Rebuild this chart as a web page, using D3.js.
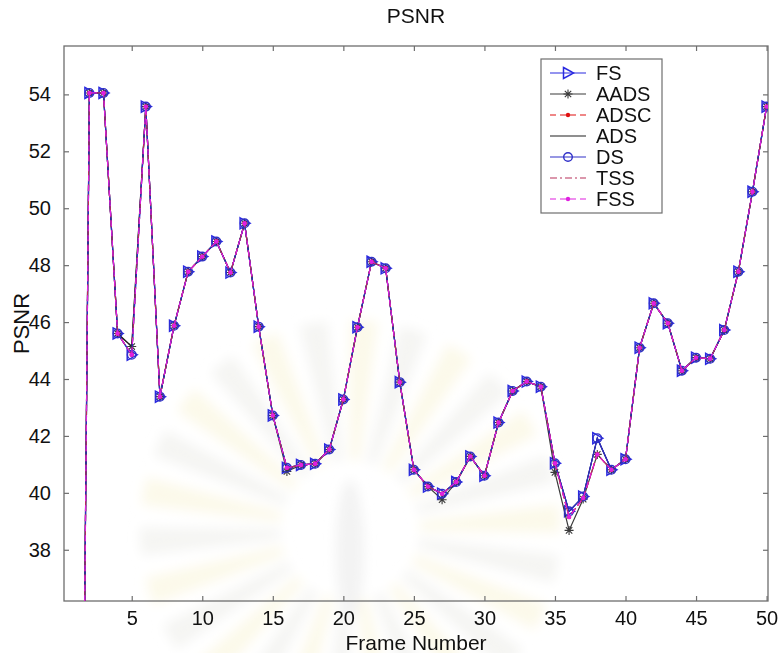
<!DOCTYPE html>
<html>
<head>
<meta charset="utf-8">
<script src="https://cdn.jsdelivr.net/npm/d3@7/dist/d3.min.js"></script>
<style>
  body { margin: 0; background: #fff; }
  svg { display: block; }
  text { font-family: "Liberation Sans", Arial, sans-serif; fill: #111; }
</style>
</head>
<body>
<svg id="chart" width="779" height="653"></svg>
<script>
// Frame numbers 1..50
const frames = [1,2,3,4,5,6,7,8,9,10,11,12,13,14,15,16,17,18,19,20,21,22,23,24,25,
                26,27,28,29,30,31,32,33,34,35,36,37,38,39,40,41,42,43,44,45,46,47,48,49,50];

// PSNR (dB) per frame for each block-matching method
const fsVals   = [0,54.05,54.05,45.60,44.85,53.57,43.38,45.87,47.77,48.30,48.83,47.74,49.47,45.84,42.72,40.88,40.98,41.02,41.52,43.28,
                  45.82,48.12,47.89,43.89,40.81,40.22,39.97,40.38,41.28,40.60,42.47,43.58,43.91,43.73,41.04,39.35,39.87,41.92,40.81,41.18,
                  45.10,46.66,45.96,44.29,44.75,44.71,45.72,47.77,50.58,53.57];
const aadsVals = [0,54.05,54.05,45.60,45.14,53.57,43.38,45.87,47.77,48.30,48.83,47.74,49.47,45.84,42.72,40.75,40.98,41.02,41.52,43.28,
                  45.82,48.12,47.89,43.89,40.81,40.22,39.76,40.38,41.28,40.60,42.47,43.58,43.91,43.73,40.72,38.68,39.78,41.35,40.81,41.18,
                  45.10,46.66,45.96,44.29,44.75,44.71,45.72,47.77,50.58,53.57];
const adscVals = [0,54.05,54.05,45.60,44.85,53.57,43.38,45.87,47.77,48.30,48.83,47.74,49.47,45.84,42.72,40.88,40.98,41.02,41.52,43.28,
                  45.82,48.12,47.89,43.89,40.81,40.22,39.97,40.38,41.28,40.60,42.47,43.58,43.91,43.73,41.04,39.15,39.82,41.35,40.81,41.18,
                  45.10,46.66,45.96,44.29,44.75,44.71,45.72,47.77,50.58,53.57];
const adsVals  = [0,54.05,54.05,45.60,45.14,53.57,43.38,45.87,47.77,48.30,48.83,47.74,49.47,45.84,42.72,40.88,40.98,41.02,41.52,43.28,
                  45.82,48.12,47.89,43.89,40.81,40.22,39.97,40.38,41.28,40.60,42.47,43.58,43.91,43.73,41.04,39.35,39.87,41.92,40.81,41.18,
                  45.10,46.66,45.96,44.29,44.75,44.71,45.72,47.77,50.58,53.57];
const dsVals   = [0,54.05,54.05,45.60,44.85,53.57,43.38,45.87,47.77,48.30,48.83,47.74,49.47,45.84,42.72,40.88,40.98,41.02,41.52,43.28,
                  45.82,48.12,47.89,43.89,40.81,40.22,39.97,40.38,41.28,40.60,42.47,43.58,43.91,43.73,41.04,39.35,39.87,41.92,40.81,41.18,
                  45.10,46.66,45.96,44.29,44.75,44.71,45.72,47.77,50.58,53.57];
const tssVals  = [0,54.05,54.05,45.60,44.85,53.57,43.38,45.87,47.77,48.30,48.83,47.74,49.47,45.84,42.72,40.88,40.98,41.02,41.52,43.28,
                  45.82,48.12,47.89,43.89,40.81,40.22,39.97,40.38,41.28,40.60,42.47,43.58,43.91,43.73,41.04,39.15,39.82,41.35,40.81,41.18,
                  45.10,46.66,45.96,44.29,44.75,44.71,45.72,47.77,50.58,53.57];
const fssVals  = [0,54.05,54.05,45.60,44.85,53.57,43.38,45.87,47.77,48.30,48.83,47.74,49.47,45.84,42.72,40.88,40.98,41.02,41.52,43.28,
                  45.82,48.12,47.89,43.89,40.81,40.22,39.97,40.38,41.28,40.60,42.47,43.58,43.91,43.73,41.04,39.15,39.82,41.35,40.81,41.18,
                  45.10,46.66,45.96,44.29,44.75,44.71,45.72,47.77,50.58,53.57];

const seriesNames = ["FS", "AADS", "ADSC", "ADS", "DS", "TSS", "FSS"];
const xTicks = [5,10,15,20,25,30,35,40,45,50];
const yTicks = [38,40,42,44,46,48,50,52,54];

// Line / marker styling per method
const styles = {
  FS:   { color: "#2a2ae0", dash: null,        marker: "tri",  width: 1.2 },
  AADS: { color: "#3a3a3a", dash: null,        marker: "star", width: 1.2 },
  ADSC: { color: "#e01010", dash: "6,4",       marker: "dot",  width: 1.2 },
  ADS:  { color: "#202020", dash: null,        marker: null,   width: 1.1 },
  DS:   { color: "#3030c8", dash: null,        marker: "circ", width: 1.2 },
  TSS:  { color: "#b8305a", dash: "7,3,2,3",   marker: null,   width: 1.2 },
  FSS:  { color: "#e020e0", dash: "6,4",       marker: "dot",  width: 1.2 }
};

const series = [
  { name: "FS",   values: fsVals },
  { name: "AADS", values: aadsVals },
  { name: "ADSC", values: adscVals },
  { name: "ADS",  values: adsVals },
  { name: "DS",   values: dsVals },
  { name: "TSS",  values: tssVals },
  { name: "FSS",  values: fssVals }
];

const svg = d3.select("#chart");
const W = 779, H = 653;
const plot = { left: 64, top: 46, right: 768, bottom: 601 };

const x = d3.scaleLinear().domain([0.2, 50.1]).range([plot.left, plot.right]);
const y = d3.scaleLinear().domain([36.2, 55.7]).range([plot.bottom, plot.top]);

svg.append("rect").attr("width", W).attr("height", H).attr("fill", "#fff");

const defs = svg.append("defs");
defs.append("clipPath").attr("id", "plotClip")
  .append("rect")
  .attr("x", plot.left).attr("y", plot.top)
  .attr("width", plot.right - plot.left).attr("height", plot.bottom - plot.top);
defs.append("filter").attr("id", "soft")
  .attr("x", "-20%").attr("y", "-20%").attr("width", "140%").attr("height", "140%")
  .append("feGaussianBlur").attr("stdDeviation", 6);

// Very faint sunburst emblem in the lower middle of the page
const emblem = svg.append("g").attr("filter", "url(#soft)");
const cx = 350, cy = 530, nRays = 26;
const arcGen = d3.arc().innerRadius(70).outerRadius(210);
for (let k = 0; k < nRays; k++) {
  const a0 = (k / nRays) * 2 * Math.PI;
  const a1 = a0 + (2 * Math.PI / nRays) * 0.55;
  emblem.append("path")
    .attr("transform", `translate(${cx},${cy})`)
    .attr("d", arcGen({ startAngle: a0, endAngle: a1 }))
    .attr("fill", k % 2 ? "#f5f5f3" : "#fcf9ea");
}
emblem.append("ellipse").attr("cx", cx).attr("cy", cy + 20).attr("rx", 14).attr("ry", 70)
  .attr("fill", "#f3f3f3");

const axisColor = "#6e6e6e";
const fontSize = 20;

// Axes with inward ticks on all four sides
const gx = svg.append("g").attr("transform", `translate(0,${plot.bottom})`)
  .call(d3.axisBottom(x).tickValues(xTicks).tickSizeInner(-5).tickSizeOuter(0).tickPadding(10));
const gxt = svg.append("g").attr("transform", `translate(0,${plot.top})`)
  .call(d3.axisTop(x).tickValues(xTicks).tickSizeInner(-5).tickSizeOuter(0).tickFormat(""));
const gy = svg.append("g").attr("transform", `translate(${plot.left},0)`)
  .call(d3.axisLeft(y).tickValues(yTicks).tickSizeInner(-5).tickSizeOuter(0).tickPadding(13));
const gyr = svg.append("g").attr("transform", `translate(${plot.right},0)`)
  .call(d3.axisRight(y).tickValues(yTicks).tickSizeInner(-5).tickSizeOuter(0).tickFormat(""));

[gx, gxt, gy, gyr].forEach(g => {
  g.select(".domain").remove();
  g.selectAll(".tick line").attr("stroke", axisColor).attr("stroke-width", 1.2);
  g.selectAll(".tick text").attr("font-size", fontSize)
    .attr("font-family", '"Liberation Sans", Arial, sans-serif').attr("fill", "#111");
});

svg.append("rect")
  .attr("x", plot.left).attr("y", plot.top)
  .attr("width", plot.right - plot.left).attr("height", plot.bottom - plot.top)
  .attr("fill", "none").attr("stroke", axisColor).attr("stroke-width", 1.3);

// Titles
svg.append("text").attr("x", (plot.left + plot.right) / 2).attr("y", 23)
  .attr("text-anchor", "middle").attr("font-size", 21).text("PSNR");
svg.append("text").attr("x", (plot.left + plot.right) / 2).attr("y", 650)
  .attr("text-anchor", "middle").attr("font-size", 21).text("Frame Number");
svg.append("text")
  .attr("transform", `translate(29,${(plot.top + plot.bottom) / 2}) rotate(-90)`)
  .attr("text-anchor", "middle").attr("font-size", 22).text("PSNR");

// Marker drawing
function drawMarker(g, type, color) {
  if (type === "tri") {
    g.append("path").attr("d", "M-4.5,-5.5L5.5,0L-4.5,5.5Z")
      .attr("fill", "none").attr("stroke", color).attr("stroke-width", 1.5);
  } else if (type === "star") {
    g.append("path").attr("d", "M-4.5,0L4.5,0M0,-4.5L0,4.5M-3.2,-3.2L3.2,3.2M-3.2,3.2L3.2,-3.2")
      .attr("stroke", color).attr("stroke-width", 1.1);
  } else if (type === "dot") {
    g.append("circle").attr("r", 2.2).attr("fill", color);
  } else if (type === "circ") {
    g.append("circle").attr("r", 4.3)
      .attr("fill", "none").attr("stroke", color).attr("stroke-width", 1.4);
  }
}

const line = d3.line().x((d, i) => x(frames[i])).y(d => y(d));
const plotG = svg.append("g").attr("clip-path", "url(#plotClip)");

series.forEach(s => {
  const st = styles[s.name];
  const g = plotG.append("g").attr("class", "series-" + s.name);
  g.append("path").datum(s.values)
    .attr("d", line)
    .attr("fill", "none")
    .attr("stroke", st.color)
    .attr("stroke-width", st.width)
    .attr("stroke-dasharray", st.dash);
  if (st.marker) {
    g.selectAll("g.mk").data(s.values.map((v, i) => [frames[i], v]))
      .join("g").attr("class", "mk")
      .attr("transform", d => `translate(${x(d[0])},${y(d[1])})`)
      .each(function () { drawMarker(d3.select(this), st.marker, st.color); });
  }
});

// Legend
const leg = svg.append("g").attr("transform", "translate(541,59)");
leg.append("rect").attr("width", 121).attr("height", 154)
  .attr("fill", "#fff").attr("stroke", axisColor).attr("stroke-width", 1.2);
seriesNames.forEach((name, i) => {
  const st = styles[name];
  const ry = 14 + i * 21;
  const row = leg.append("g").attr("transform", `translate(0,${ry})`);
  row.append("line").attr("x1", 9).attr("x2", 45).attr("y1", 0).attr("y2", 0)
    .attr("stroke", st.color).attr("stroke-width", st.width)
    .attr("stroke-dasharray", st.dash);
  if (st.marker) {
    const m = row.append("g").attr("transform", "translate(27,0)");
    drawMarker(m, st.marker, st.color);
  }
  row.append("text").attr("x", 55).attr("y", 0).attr("dy", "0.36em")
    .attr("font-size", 20).text(name);
});
</script>
</body>
</html>
